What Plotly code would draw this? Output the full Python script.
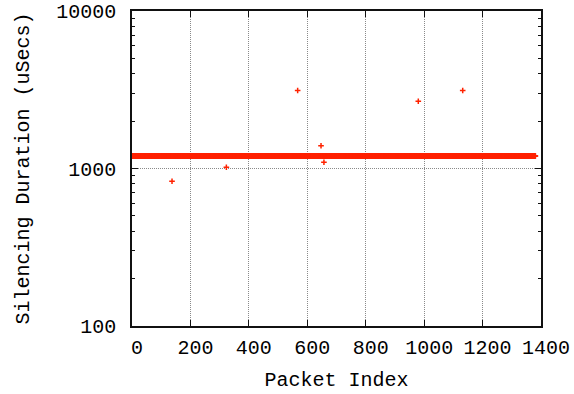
import plotly.graph_objects as go

# ---- data ----
N_PACKETS = 1382            # packets 0 .. 1381
BASE_DURATION = 1200        # almost every packet sits at ~1200 uSecs
outlier_index = [137, 323, 567, 647, 657, 980, 1132]
outlier_value = [830, 1019, 3126, 1394, 1096, 2673, 3126]

x_ticks = [0, 200, 400, 600, 800, 1000, 1200, 1400]
y_ticks = [100, 1000, 10000]
y_tick_text = ["100", "1000", "10000"]
y_minor = [v * m for v in (100, 1000) for m in range(2, 10)]

outlier_map = dict(zip(outlier_index, outlier_value))
xs = list(range(N_PACKETS))
ys = [outlier_map.get(i, BASE_DURATION) for i in xs]

FONT = "Liberation Mono"
FS = 20
RED = "#ff2200"

fig = go.Figure()
fig.add_trace(go.Scatter(
    x=xs, y=ys, mode="markers",
    marker=dict(symbol="cross-thin", size=4, color=RED,
                line=dict(color=RED, width=1.5)),
    showlegend=False, hoverinfo="skip",
))

axis_common = dict(
    showline=True, linecolor="#111", linewidth=1.5, mirror="ticks",
    ticks="inside", tickcolor="#111", ticklen=6, tickwidth=1,
    showgrid=True, gridcolor="#8a8a8a", griddash="1px,1px", gridwidth=1,
    zeroline=False, automargin=False,
    tickfont=dict(family=FONT, size=FS, color="#000"),
)

fig.update_layout(
    width=574, height=394,
    margin=dict(l=132, r=33, t=11, b=68),
    paper_bgcolor="white", plot_bgcolor="white",
    font=dict(family=FONT, size=FS, color="#000"),
    xaxis=dict(
        range=[0, 1400], tickvals=x_ticks,
        title=dict(text="Packet Index", font=dict(family=FONT, size=FS), standoff=13),
        ticklabelshift=5, ticklabelstandoff=2,
        **axis_common,
    ),
    yaxis=dict(
        type="log", range=[2, 4], tickvals=y_ticks, ticktext=y_tick_text,
        title=dict(text="Silencing Duration (uSecs)", font=dict(family=FONT, size=FS), standoff=21),
        ticklabelstandoff=10,
        minor=dict(tickvals=y_minor, ticks="inside", ticklen=3, tickcolor="#111", showgrid=False),
        **axis_common,
    ),
)

fig.write_html("out.html")
